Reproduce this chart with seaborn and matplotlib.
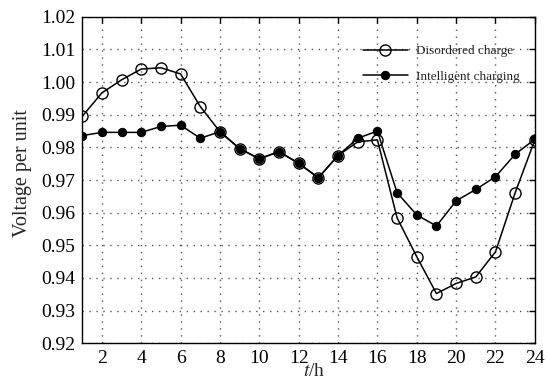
import matplotlib
matplotlib.use("Agg")
import matplotlib.pyplot as plt
import seaborn as sns
import pandas as pd

hours = list(range(1, 25))
disordered = [0.9895, 0.9967, 1.0007, 1.0040, 1.0044, 1.0025, 0.9925, 0.9848,
              0.9796, 0.9765, 0.9787, 0.9751, 0.9707, 0.9775, 0.9817, 0.9823,
              0.9584, 0.9465, 0.9352, 0.9383, 0.9403, 0.9480, 0.9661, 0.9823]
intelligent = [0.9836, 0.9846, 0.9846, 0.9846, 0.9864, 0.9868, 0.9828, 0.9848,
               0.9796, 0.9765, 0.9787, 0.9751, 0.9707, 0.9775, 0.9828, 0.9850,
               0.9661, 0.9593, 0.9559, 0.9636, 0.9671, 0.9710, 0.9779, 0.9825]
labels = ["Disordered charge", "Intelligent charging"]
xticks = [2, 4, 6, 8, 10, 12, 14, 16, 18, 20, 22, 24]
yticks = [0.92, 0.93, 0.94, 0.95, 0.96, 0.97, 0.98, 0.99, 1.00, 1.01, 1.02]

sns.set_style("white")
plt.rcParams['font.family'] = ['Liberation Serif', 'DejaVu Serif']
plt.rcParams['mathtext.fontset'] = 'stix'

df = pd.DataFrame({
    "t": hours * 2,
    "v": disordered + intelligent,
    "series": [labels[0]] * 24 + [labels[1]] * 24,
})

fig = plt.figure(figsize=(5.48, 3.83), dpi=100)
ax = fig.add_axes([0.150, 0.104, 0.826, 0.852])

sns.lineplot(data=df[df.series == labels[0]], x="t", y="v", ax=ax, color="black",
             lw=1.1, marker="o", markersize=8, markerfacecolor="none",
             markeredgecolor="black", markeredgewidth=1.0, label=labels[0])
sns.lineplot(data=df[df.series == labels[1]], x="t", y="v", ax=ax, color="black",
             lw=1.1, marker="o", markersize=6, markerfacecolor="black",
             markeredgecolor="black", label=labels[1])

ax.set_xlim(1, 24)
ax.set_ylim(0.92, 1.02)
ax.set_xticks(xticks)
ax.set_yticks(yticks)
ax.set_yticklabels([f"{v:.2f}" for v in yticks])
ax.tick_params(direction="in", top=True, right=True, length=4, width=1, labelsize=14,
               colors="black", pad=5)
ax.grid(True, linestyle=(0, (1, 4)), color="#555555", lw=1.0)
for s in ax.spines.values():
    s.set_color("black")
    s.set_linewidth(1.0)
ax.set_xlabel("$t$/h", fontsize=14)
ax.set_ylabel("Voltage per unit", fontsize=14.5)
ax.yaxis.set_label_coords(-0.110, 0.522)
ax.xaxis.set_label_coords(0.512, -0.062)

leg = ax.legend(loc="upper left", bbox_to_anchor=(0.620, 0.913), frameon=False,
                fontsize=9.5, handlelength=3.4, handletextpad=0.6, borderpad=0,
                borderaxespad=0, labelspacing=0.97)

fig.savefig("out.png", dpi=100)
